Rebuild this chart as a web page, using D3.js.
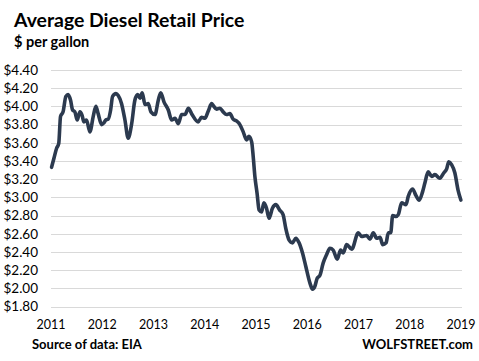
<!DOCTYPE html>
<html>
<head>
<meta charset="utf-8">
<script src="https://cdn.jsdelivr.net/npm/d3@7"></script>
<style>
  body { margin: 0; background: #fff; }
  text { font-family: Lato, "Open Sans", sans-serif; fill: #000; }
</style>
</head>
<body>
<script>
// Chart size
const w = 479;
const h = 361;

// Data: dates and $ per gallon
const dates = [
  "2011-01-05", "2011-01-22", "2011-02-10", "2011-02-25", "2011-03-10", "2011-03-28",
  "2011-04-17", "2011-05-03", "2011-05-20", "2011-06-04", "2011-06-20", "2011-07-07",
  "2011-07-26", "2011-08-11", "2011-08-23", "2011-09-11", "2011-10-05", "2011-10-29",
  "2011-11-17", "2011-12-03", "2011-12-28", "2012-01-13", "2012-01-27", "2012-02-13",
  "2012-03-01", "2012-03-15", "2012-04-08", "2012-04-24", "2012-05-18", "2012-06-11",
  "2012-07-04", "2012-07-29", "2012-08-21", "2012-09-10", "2012-09-26", "2012-10-12",
  "2012-11-01", "2012-11-24", "2012-12-13", "2013-01-11", "2013-02-04", "2013-02-21",
  "2013-03-16", "2013-04-16", "2013-05-10", "2013-06-03", "2013-06-26", "2013-07-20",
  "2013-08-13", "2013-09-06", "2013-09-29", "2013-11-15", "2013-12-09", "2014-01-02",
  "2014-01-26", "2014-02-19", "2014-03-02", "2014-03-26", "2014-04-19", "2014-05-12",
  "2014-06-05", "2014-06-29", "2014-07-22", "2014-08-15", "2014-09-08", "2014-10-02",
  "2014-10-26", "2014-11-11", "2014-12-01", "2014-12-12", "2014-12-24", "2015-01-09",
  "2015-01-23", "2015-02-10", "2015-02-26", "2015-03-17", "2015-04-04", "2015-04-28",
  "2015-05-22", "2015-06-19", "2015-07-13", "2015-08-01", "2015-08-25", "2015-09-18",
  "2015-10-12", "2015-11-04", "2015-11-28", "2015-12-22", "2016-01-20", "2016-02-08",
  "2016-02-24", "2016-03-12", "2016-03-31", "2016-04-24", "2016-05-18", "2016-06-11",
  "2016-07-04", "2016-08-02", "2016-08-26", "2016-09-14", "2016-10-08", "2016-11-13",
  "2016-12-30", "2017-01-23", "2017-02-28", "2017-03-23", "2017-04-16", "2017-05-10",
  "2017-06-03", "2017-06-22", "2017-07-16", "2017-08-01", "2017-08-18", "2017-09-01",
  "2017-09-25", "2017-10-11", "2017-11-04", "2017-12-05", "2017-12-21", "2018-01-21",
  "2018-02-14", "2018-03-09", "2018-04-02", "2018-04-19", "2018-05-12", "2018-06-06",
  "2018-06-29", "2018-08-03", "2018-09-01", "2018-09-20", "2018-10-06", "2018-10-26",
  "2018-11-18", "2018-12-11", "2018-12-31"
];
const prices = [
  3.33, 3.43, 3.54, 3.59, 3.89, 3.94,
  4.11, 4.13, 4.07, 3.96, 3.94, 3.85,
  3.94, 3.90, 3.83, 3.85, 3.72, 3.89,
  4.00, 3.92, 3.80, 3.82, 3.85, 3.86,
  3.96, 4.11, 4.14, 4.12, 4.03, 3.85,
  3.65, 3.81, 4.07, 4.13, 4.09, 4.15,
  4.02, 4.03, 3.94, 3.91, 4.07, 4.15,
  4.05, 3.96, 3.85, 3.87, 3.81, 3.91,
  3.91, 3.98, 3.92, 3.83, 3.88, 3.87,
  3.95, 4.03, 4.01, 3.97, 3.98, 3.94,
  3.91, 3.92, 3.86, 3.84, 3.80, 3.72,
  3.63, 3.67, 3.61, 3.45, 3.23, 3.04,
  2.86, 2.84, 2.94, 2.88, 2.77, 2.88,
  2.92, 2.86, 2.81, 2.66, 2.53, 2.50,
  2.55, 2.50, 2.39, 2.24, 2.06, 1.99,
  2.02, 2.11, 2.14, 2.28, 2.37, 2.44,
  2.42, 2.32, 2.42, 2.39, 2.48, 2.43,
  2.61, 2.57, 2.58, 2.54, 2.61, 2.55,
  2.56, 2.48, 2.50, 2.61, 2.61, 2.80,
  2.79, 2.81, 2.94, 2.92, 3.01, 3.09,
  3.02, 2.97, 3.06, 3.16, 3.28, 3.23,
  3.25, 3.21, 3.27, 3.31, 3.39, 3.36,
  3.27, 3.08, 2.97
];

// Axis ticks
const yTicks = [1.8, 2.0, 2.2, 2.4, 2.6, 2.8, 3.0, 3.2, 3.4, 3.6, 3.8, 4.0, 4.2, 4.4];
const xTicks = ["2011", "2012", "2013", "2014", "2015", "2016", "2017", "2018", "2019"];

const parse = d3.timeParse("%Y-%m-%d");
const data = dates.map((d, i) => ({ date: parse(d), price: prices[i] }));

const svg = d3.select("body").append("svg").attr("width", w).attr("height", h);

const x = d3.scaleTime()
  .domain([new Date(2011, 0, 1), new Date(2019, 0, 1)])
  .range([51, 461]);

const y = d3.scaleLinear()
  .domain([1.8, 4.4])
  .range([306.5, 70]);

// horizontal gridlines
svg.append("g")
  .selectAll("line")
  .data(yTicks)
  .enter()
  .append("line")
  .attr("x1", 51)
  .attr("x2", 462)
  .attr("y1", d => Math.round(y(d)) + 0.5)
  .attr("y2", d => Math.round(y(d)) + 0.5)
  .attr("stroke", "#d9d9d9")
  .attr("stroke-width", 1);

// y labels
svg.append("g")
  .selectAll("text")
  .data(yTicks)
  .enter()
  .append("text")
  .attr("x", 38)
  .attr("y", d => y(d))
  .attr("dy", "0.36em")
  .attr("text-anchor", "end")
  .style("font-size", "13.5px")
  .text(d => "$" + d.toFixed(2));

// x labels
svg.append("g")
  .selectAll("text")
  .data(xTicks)
  .enter()
  .append("text")
  .attr("x", d => x(parse(d + "-01-01")))
  .attr("y", 329)
  .attr("text-anchor", "middle")
  .style("font-size", "12.5px")
  .text(d => d);

// price line
const line = d3.line()
  .x(d => x(d.date))
  .y(d => y(d.price))
  .curve(d3.curveMonotoneX);

svg.append("path")
  .datum(data)
  .attr("fill", "none")
  .attr("stroke", "#2c3a4f")
  .attr("stroke-width", 3.6)
  .attr("stroke-linejoin", "round")
  .attr("stroke-linecap", "round")
  .attr("d", line);

// titles
svg.append("text")
  .attr("x", 14)
  .attr("y", 27)
  .style("font-size", "19.4px")
  .style("font-weight", "bold")
  .text("Average Diesel Retail Price");

svg.append("text")
  .attr("x", 14)
  .attr("y", 47)
  .style("font-size", "14.5px")
  .style("font-weight", "bold")
  .text("$ per gallon");

// footer
svg.append("text")
  .attr("x", 32)
  .attr("y", 349)
  .style("font-size", "13px")
  .style("font-weight", "bold")
  .text("Source of data: EIA");

svg.append("text")
  .attr("x", 473)
  .attr("y", 349)
  .attr("text-anchor", "end")
  .style("font-size", "13px")
  .style("font-weight", "bold")
  .text("WOLFSTREET.com");
</script>
</body>
</html>
